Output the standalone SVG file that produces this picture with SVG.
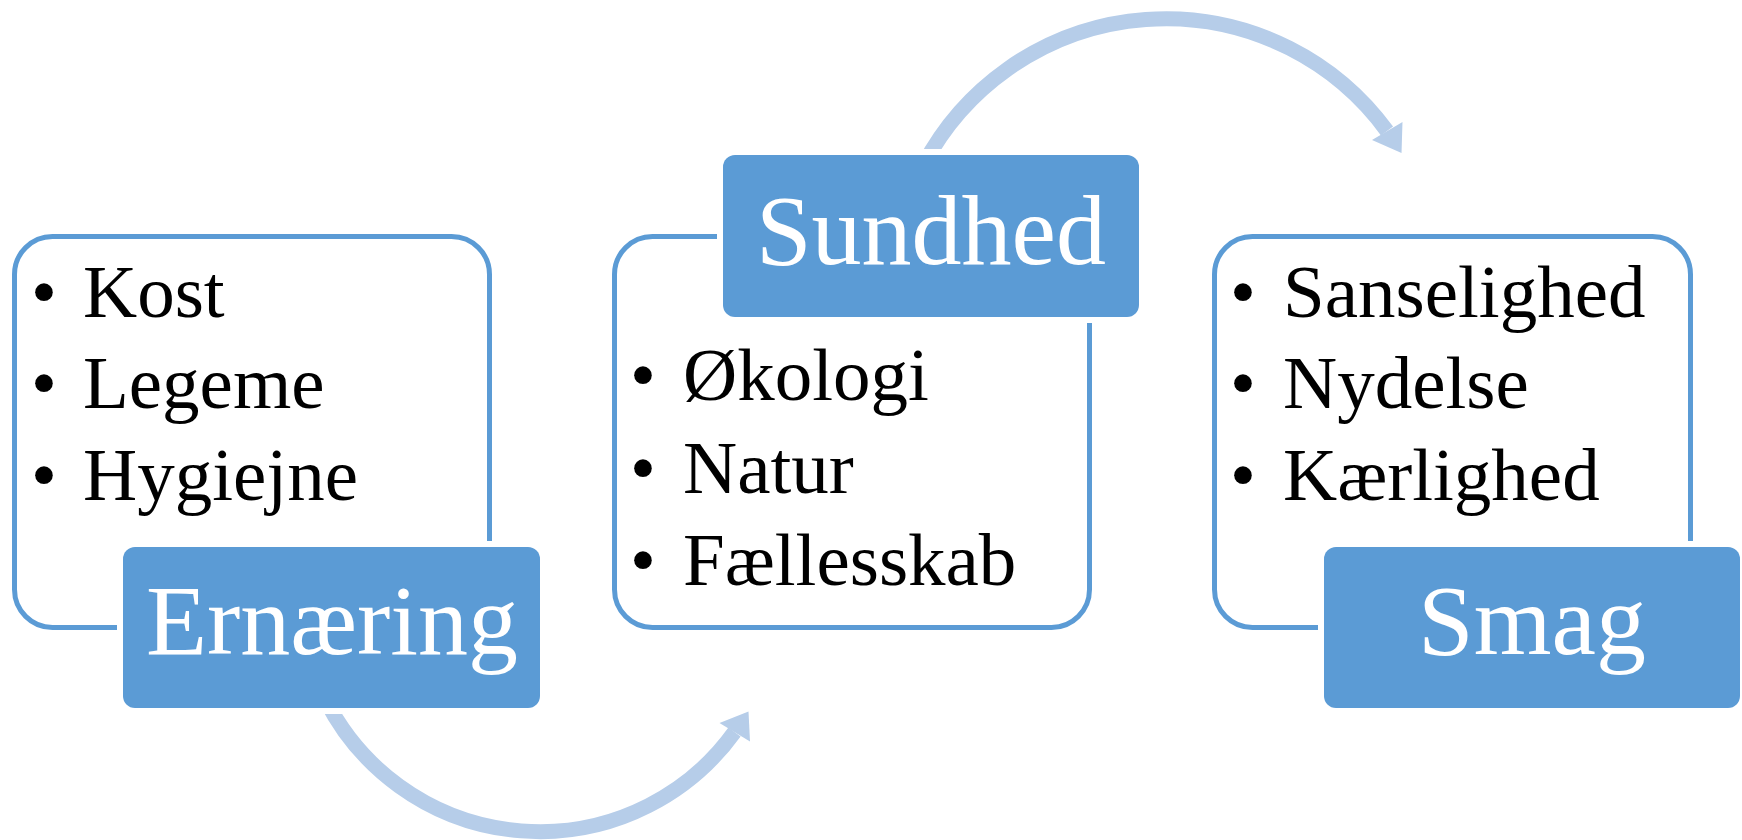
<svg xmlns="http://www.w3.org/2000/svg" width="1742" height="840" viewBox="0 0 1742 840">
<style>
.outline{fill:#fff;stroke:#5B9BD5;stroke-width:5}
.head{fill:#5B9BD5;stroke:#fff;stroke-width:12;paint-order:stroke}
.ht{font-family:"Liberation Serif",serif;font-size:100px;fill:#fff;text-anchor:middle}
.bt{font-family:"Liberation Serif",serif;font-size:75px;fill:#000}
.bu{font-family:"Liberation Serif",serif;font-size:74px;fill:#000;text-anchor:middle}
.arc{fill:none;stroke:#B6CDE9;stroke-width:15}
.ah{fill:#B6CDE9}
</style>
<rect width="1742" height="840" fill="#fff"/>
<g id="connectors">
<path class="arc" d="M 325.7 700 A 240 240 0 0 0 734.5 732"/>
<polygon class="ah" points="719.5,723 748.5,711.5 750,741.5"/>
<path class="arc" d="M 923.4 165 A 274 274 0 0 1 1387 131"/>
<polygon class="ah" points="1372,140 1402.5,122 1401.5,153"/>
</g>
<g id="node-ernaering">
<rect class="outline" x="14.5" y="236.5" width="475" height="391" rx="38"/>
<text class="bu" x="44" y="317">•</text><text class="bt" x="83" y="317">Kost</text>
<text class="bu" x="44" y="408">•</text><text class="bt" x="83" y="408">Legeme</text>
<text class="bu" x="44" y="500">•</text><text class="bt" x="83" y="500">Hygiejne</text>
<rect class="head" x="123" y="547" width="417" height="161" rx="12"/>
<text class="ht" x="332" y="654">Ernæring</text>
</g>
<g id="node-sundhed">
<rect class="outline" x="614.5" y="236.5" width="475" height="391" rx="38"/>
<text class="bu" x="643" y="400">•</text><text class="bt" x="683" y="400">Økologi</text>
<text class="bu" x="643" y="493">•</text><text class="bt" x="683" y="493">Natur</text>
<text class="bu" x="643" y="585">•</text><text class="bt" x="683" y="585">Fællesskab</text>
<rect class="head" x="723" y="155" width="416" height="162" rx="12"/>
<text class="ht" x="931" y="264">Sundhed</text>
</g>
<g id="node-smag">
<rect class="outline" x="1214.5" y="236.5" width="476" height="391" rx="38"/>
<text class="bu" x="1243" y="317">•</text><text class="bt" x="1283" y="317">Sanselighed</text>
<text class="bu" x="1243" y="408">•</text><text class="bt" x="1283" y="408">Nydelse</text>
<text class="bu" x="1243" y="500">•</text><text class="bt" x="1283" y="500">Kærlighed</text>
<rect class="head" x="1324" y="547" width="416" height="161" rx="12"/>
<text class="ht" x="1532" y="654">Smag</text>
</g>
</svg>
